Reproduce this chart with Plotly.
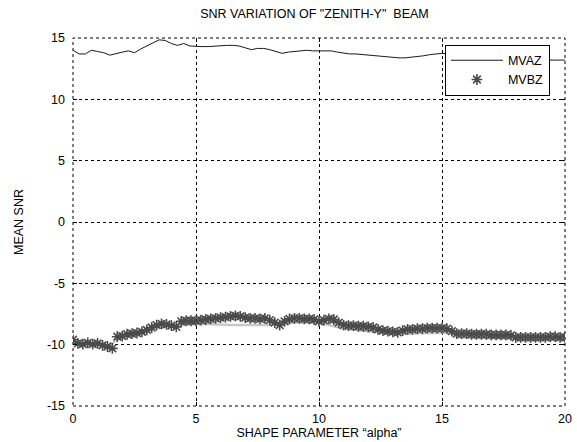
import plotly.graph_objects as go

# Shape parameter grids
alpha_a = [i * 0.25 for i in range(81)]
alpha_b = [round(i * 0.2, 1) for i in range(101)]

# Mean SNR, "ZENITH-Y" beam, series A
mvaz = [14.0, 13.7, 13.7, 14.0, 13.9, 13.8, 13.6, 13.75, 13.85, 13.95,
        13.8, 14.1, 14.35, 14.6, 14.85, 14.8, 14.55, 14.4, 14.55, 14.35,
        14.3, 14.3, 14.3, 14.35, 14.4, 14.4, 14.4, 14.35, 14.2, 14.05,
        14.15, 14.15, 14.05, 13.9, 13.75, 13.85, 13.9, 13.95, 14.0, 13.95,
        13.95, 14.0, 13.95, 13.85, 13.75, 13.7, 13.7, 13.65, 13.6, 13.55,
        13.55, 13.5, 13.42, 13.38, 13.38, 13.42, 13.47, 13.55, 13.64, 13.72,
        13.75, 13.7, 13.65, 13.6, 13.55, 13.5, 13.5, 13.45, 13.4, 13.4,
        13.35, 13.35, 13.3, 13.3, 13.25, 13.25, 13.2, 13.2, 13.2, 13.2,
        13.2]

# Mean SNR, series B
mvbz = [-9.6, -9.9, -9.95, -9.85, -9.95, -9.9, -10.05, -10.15, -10.3, -9.35,
        -9.3, -9.15, -9.1, -9.05, -8.95, -8.8, -8.6, -8.4, -8.3, -8.35,
        -8.45, -8.55, -8.1, -8.05, -8.05, -8.05, -8.0, -7.95, -7.9, -7.85,
        -7.8, -7.75, -7.7, -7.65, -7.7, -7.8, -7.85, -7.85, -7.9, -7.85,
        -8.0, -8.2, -8.4, -8.1, -7.9, -7.85, -7.85, -7.9, -7.9, -7.95,
        -8.1, -8.0, -7.9, -7.95, -8.2, -8.4, -8.45, -8.45, -8.5, -8.5,
        -8.55, -8.6, -8.75, -8.85, -8.9, -8.95, -9.0, -8.85, -8.75, -8.75,
        -8.7, -8.7, -8.65, -8.65, -8.65, -8.65, -8.7, -8.9, -9.1, -9.1,
        -9.1, -9.15, -9.15, -9.15, -9.15, -9.2, -9.2, -9.2, -9.2, -9.25,
        -9.4, -9.4, -9.4, -9.4, -9.4, -9.4, -9.4, -9.35, -9.35, -9.4,
        -9.4]

# Smoothed level of series B
alpha_s = [0, 1.5, 1.8, 3.0, 3.4, 4.4, 5.0, 6.5, 8.0, 9.0, 10.0, 11.0,
           12.5, 13.5, 15.3, 15.6, 18.0, 20.0]
mvbz_smooth = [-9.9, -10.1, -9.5, -9.0, -8.6, -8.4, -8.3, -8.4, -8.4, -8.2,
               -8.2, -8.7, -9.0, -9.1, -9.0, -9.4, -9.5, -9.6]

x_ticks = [0, 5, 10, 15, 20]
x_labels = ["0", "5", "10", "15", "20"]
y_ticks = [-15, -10, -5, 0, 5, 10, 15]
y_labels = ["-15", "-10", "-5", "0", "5", "10", "15"]

FONT = "Liberation Sans, Arial, sans-serif"
DASH = "3px,3px"

fig = go.Figure()

fig.add_trace(go.Scatter(
    x=alpha_s, y=mvbz_smooth, mode="lines",
    line=dict(color="#c8c8c8", width=2.5),
    showlegend=False, hoverinfo="skip",
))
fig.add_trace(go.Scatter(
    x=alpha_a, y=mvaz, mode="lines", name="MVAZ",
    line=dict(color="#1a1a1a", width=1),
))
fig.add_trace(go.Scatter(
    x=alpha_b, y=mvbz, mode="markers", name="MVBZ",
    marker=dict(symbol="asterisk-open", size=9, color="#4a4a4a",
                line=dict(color="#4a4a4a", width=1.6)),
))

axis_common = dict(
    showgrid=True, gridcolor="black", griddash=DASH, gridwidth=1,
    zeroline=False, showline=False, automargin=False,
    ticks="inside", ticklen=4, tickcolor="black", mirror="ticks",
    tickfont=dict(family=FONT, size=12.5, color="black"),
)

fig.update_xaxes(
    range=[0, 20], tickvals=x_ticks, ticktext=x_labels, ticklabelstandoff=3,
    title=dict(text="SHAPE PARAMETER \u201calpha\u201d",
               font=dict(family=FONT, size=12.5, color="black"), standoff=0),
    **axis_common,
)
fig.update_yaxes(
    range=[-15, 15], tickvals=y_ticks, ticktext=y_labels, ticklabelstandoff=7,
    title=dict(text="MEAN SNR",
               font=dict(family=FONT, size=12.5, color="black"), standoff=20),
    **axis_common,
)

# dashed frame around the plotting area
fig.add_shape(type="rect", xref="paper", yref="paper", x0=0, y0=0, x1=1, y1=1,
              line=dict(color="black", width=1, dash=DASH), layer="below")

fig.update_layout(
    width=577, height=442,
    margin=dict(l=73, r=12, t=38, b=36),
    paper_bgcolor="white", plot_bgcolor="white",
    title=dict(text="SNR VARIATION OF \"ZENITH-Y\"  BEAM",
               font=dict(family=FONT, size=12.5, color="black"),
               x=0.545, xanchor="center", y=0.97, yanchor="middle"),
    legend=dict(x=0.756, y=0.982, xanchor="left", yanchor="top",
                bgcolor="white", bordercolor="black", borderwidth=1,
                font=dict(family=FONT, size=12.5, color="black"),
                itemwidth=52),
    showlegend=True,
)

fig.write_html("out.html")
